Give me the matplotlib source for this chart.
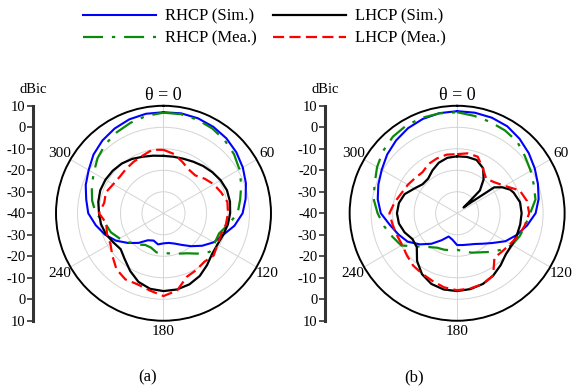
import numpy as np
import matplotlib
matplotlib.use("Agg")
import matplotlib.pyplot as plt

plt.rcParams['font.family'] = ['Liberation Serif', 'DejaVu Serif']

# angles (deg, clockwise from top) and gains (dBic)
theta_deg = list(range(0, 360, 10))

rhcp_sim_a = [7, 7.2, 7, 6.4, 5.5, 4.2, 2.6, 0.8, -1.2, -3.2, -6.5, -10.5, -13, -16.5, -20, -23, -25, -26,
              -26, -25.3, -26.5, -25.5, -22, -18.5, -14.5, -11, -8, -5, -3.5, -1.5, 0.2, 2.5, 4.2, 5.5, 6.5, 7]
rhcp_mea_a = [6.8, 6.8, 6.3, 5.5, 4.3, 2.8, 0.8, -1.5, -3.8, -5.5, -9.5, -12.5, -12.5, -12, -15.5, -18.5, -20, -21,
              -21.5, -21.5, -23, -23, -21, -19, -16.5, -14, -12.5, -8.5, -6.3, -4.5, -2.5, 0, 2, 3.5, 4.8, 6]
lhcp_sim_a = [-13.3, -13.3, -13, -12.3, -11.3, -10.3, -9.3, -8.6, -8.6, -9, -9.6, -10.5, -11, -10.5, -8.5, -6.3, -4.8, -4,
              -3.8, -4.3, -6, -9, -12, -14, -13, -11.5, -10.5, -10, -9.2, -8.7, -8.8, -9.2, -9.8, -10.8, -12, -12.8]
lhcp_mea_a = [-10.5, -12, -14.5, -16.5, -17, -15, -13, -11.5, -9.8, -10, -10.5, -11.5, -11, -9.5, -10.5, -9.5, -8.5, -3.5,
              -1.5, -3.5, -4.8, -4.5, -6, -9, -11.5, -12, -13, -10, -12, -11.5, -13, -13.5, -13, -12.3, -11.5, -10]

rhcp_sim_b = [7.5, 7.5, 7.3, 6.7, 5.2, 3.5, 1.7, 0, -1.5, -3.5, -7, -10.5, -14, -18.5, -21.5, -23.5, -24.5, -25,
              -25.2, -27.5, -28.5, -25.5, -21.5, -17.5, -13.5, -11, -8.3, -4.5, -2.5, -1, 0.5, 2.5, 4.2, 5.7, 6.7, 7.3]
rhcp_mea_b = [7, 6, 5.2, 4.5, 3.5, 1.2, -0.5, -2, -3, -6, -7.8, -9, -10.5, -13.5, -16.5, -19, -20.5, -22,
              -23, -22.5, -22, -21.5, -19.5, -16, -10, -8, -5.5, -3, -0.5, 0.8, 3, 5, 6.5, 7.2, 7.3, 7.2]
# the (b) LHCP simulation folds into a cusp near 45-55 deg, so its angles are listed separately
theta_lhcp_sim_b = [0, 10, 20, 30, 38, 45, 46, 48, 52, 54, 55, 60, 66, 70] + list(range(80, 360, 10))
lhcp_sim_b = [-13.5, -13.4, -13.6, -15.8, -20, -25, -31, -36, -31.5, -26, -19, -15.8, -13, -12,
              -10.3, -10, -10.2, -10.4, -10.6, -10.4, -8.5, -6.5, -5, -4.2, -3.8, -4, -5, -7.3, -11, -15.5, -16, -14,
              -12.5, -12, -12.5, -14, -17, -19, -19, -17, -15, -13.8]
lhcp_mea_b = [-12.5, -11.7, -12, -16, -19, -17.5, -14.5, -9, -7, -6.5, -8, -9.5, -11.5, -12.5, -13, -6.5, -5, -4.5,
              -4.2, -5, -6.5, -7.5, -8.2, -9.5, -10.5, -10.2, -9.5, -8.5, -10.5, -12.5, -13.5, -14.5, -15, -13.5, -12.8, -12.3]

angle_ticks = [0, 60, 120, 180, 240, 300]
angle_labels = ['θ = 0', '60', '120', '180', '240', '300']
ring_levels = [-30, -20, -10, 0]
scale_ticks = list(range(-50, 51, 10))
scale_labels = ['10', '0', '-10', '-20', '-30', '-40', '-30', '-20', '-10', '0', '10']

series_names = ['RHCP (Sim.)', 'RHCP (Mea.)', 'LHCP (Sim.)', 'LHCP (Mea.)']


def closed(theta, values):
    t = np.deg2rad(list(theta) + [theta[0] + 360])
    return t, list(values) + [values[0]]


def draw_panel(fig, rect, bar_x, rhcp_sim, rhcp_mea, lhcp_sim, lhcp_mea, theta_lhcp_sim, caption, caption_x):
    ax = fig.add_axes(rect, projection='polar')
    ax.set_theta_zero_location('N')
    ax.set_theta_direction(-1)

    lines = []
    t, r = closed(theta_deg, rhcp_sim)
    lines += ax.plot(t, r, color='#0000ff', lw=1.5, label=series_names[0])
    t, r = closed(theta_deg, rhcp_mea)
    lines += ax.plot(t, r, color='#0a8a0a', lw=1.6, dashes=(9, 4, 1.5, 4), label=series_names[1])
    t, r = closed(theta_lhcp_sim, lhcp_sim)
    lines += ax.plot(t, r, color='black', lw=1.6, label=series_names[2])
    t, r = closed(theta_deg, lhcp_mea)
    lines += ax.plot(t, r, color='#ff0000', lw=1.6, dashes=(5, 2.4), label=series_names[3])

    ax.set_ylim(-40, 10)
    ax.set_yticks(ring_levels)
    ax.set_yticklabels([])
    ax.set_xticks(np.deg2rad(angle_ticks))
    ax.set_xticklabels([])
    ax.tick_params(length=0)
    ax.grid(True, color='#d4d4d4', lw=0.7)
    ax.spines['polar'].set_linewidth(1.4)
    ax.spines['polar'].set_color('black')

    for a, lab in zip(angle_ticks, angle_labels):
        rr = 15.0 if a in (0, 180) else 15.8
        fs = 13 if a == 0 else 11
        ax.text(np.deg2rad(a), rr, lab, ha='center', va='center', fontsize=fs, clip_on=False)

    # dBic scale bar on the left
    bar = fig.add_axes([bar_x, rect[1], 0.0005, rect[3]])
    for side in ['top', 'right', 'bottom']:
        bar.spines[side].set_visible(False)
    bar.spines['left'].set_linewidth(2.2)
    bar.spines['left'].set_color('#333333')
    bar.set_xticks([])
    bar.set_ylim(-50, 50)
    bar.set_yticks(scale_ticks)
    bar.set_yticklabels(scale_labels, fontsize=10.5)
    bar.tick_params(axis='y', direction='out', length=4.5, width=1.2, color='#333333', pad=1)
    fig.text(bar_x, 0.771, 'dBic', ha='center', va='center', fontsize=10.5)

    fig.text(caption_x, 1 - 377 / 392, caption, ha='center', va='center', fontsize=12)
    return lines


fig = plt.figure(figsize=(5.81, 3.92), dpi=100)

handles = draw_panel(fig, [0.0964, 0.1817, 0.370, 0.5485], 0.0573,
                     rhcp_sim_a, rhcp_mea_a, lhcp_sim_a, lhcp_mea_a, theta_deg, '(a)', 148 / 581)
draw_panel(fig, [0.6018, 0.1817, 0.370, 0.5485], 0.5594,
           rhcp_sim_b, rhcp_mea_b, lhcp_sim_b, lhcp_mea_b, theta_lhcp_sim_b, '(b)', 414 / 581)

fig.legend(handles, series_names, ncol=2, loc='upper left', bbox_to_anchor=(0.1429, 0.978),
           frameon=False, fontsize=12, handlelength=4.38, handletextpad=0.54, columnspacing=1.0,
           labelspacing=0.37, borderpad=0, borderaxespad=0)

fig.savefig('out.png', dpi=100)
